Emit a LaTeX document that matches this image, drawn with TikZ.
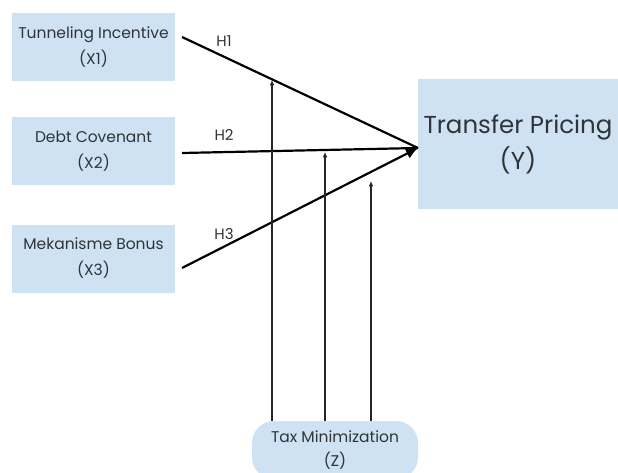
\documentclass[tikz,border=0pt]{standalone}
\usepackage{fontspec}
\setmainfont{Poppins}
\usetikzlibrary{arrows.meta}
\definecolor{boxblue}{HTML}{CFE2F3}
\definecolor{txtgray}{HTML}{2E3438}
\begin{document}
\begin{tikzpicture}[x=1pt, y=-1pt]
        \tikzstyle{every node}=[text=txtgray, align=center, inner sep=0pt]
        \tikzstyle{varbox}=[fill=boxblue, minimum width=163pt, minimum height=68pt, font=\fontsize{15.5}{26}\selectfont]
        \tikzstyle{path}=[line width=2.2pt, black]
        \tikzstyle{modarrow}=[line width=1.1pt, black!85, -{Latex[length=5.5pt, width=5pt]}]
        \tikzstyle{hlabel}=[font=\fontsize{15}{18}\selectfont]

\useasboundingbox[fill=white] (0,0) rectangle (618,473);

% Independent variables on the left, dependent variable on the right
        \node[varbox] (tunneling) at (93.5,47.5) {Tunneling Incentive\\(X1)};
        \node[varbox] (debt) at (93.5,151.5) {Debt Covenant\\(X2)};
        \node[varbox] (bonus) at (93.5,258.5) {Mekanisme Bonus\\(X3)};
        \node[fill=boxblue, minimum width=200pt, minimum height=130pt, font=\fontsize{24.5}{36}\selectfont] (pricing) at (518,144) {Transfer Pricing\\(Y)};
        \node[fill=boxblue, rounded corners=22pt, minimum width=166pt, minimum height=58pt, font=\fontsize{15.5}{24}\selectfont] (taxmin) at (335,450) {Tax Minimization\\(Z)};

        \coordinate (tip) at (418,148);
        \coordinate (s1) at (182,37);
        \coordinate (s2) at (182,153);
        \coordinate (s3) at (182,268);

        \draw[path] (s1) -- (tip);
        \draw[path] (s2) -- (tip);
        \draw[path, -{Latex[length=12pt, width=11pt]}] (s3) -- (tip);

        \node[hlabel] (h1) at (224,41) {H1};
        \node[hlabel] (h2) at (224,135) {H2};
        \node[hlabel] (h3) at (224,234) {H3};

% Moderating arrows from Z
        \coordinate (m1) at (272,80);
        \coordinate (m2) at (325,152);
        \coordinate (m3) at (371,181);
        \draw[modarrow] (taxmin.north -| m1) -- (m1);
        \draw[modarrow] (taxmin.north -| m2) -- (m2);
        \draw[modarrow] (taxmin.north -| m3) -- (m3);

    \end{tikzpicture}
\end{document}
